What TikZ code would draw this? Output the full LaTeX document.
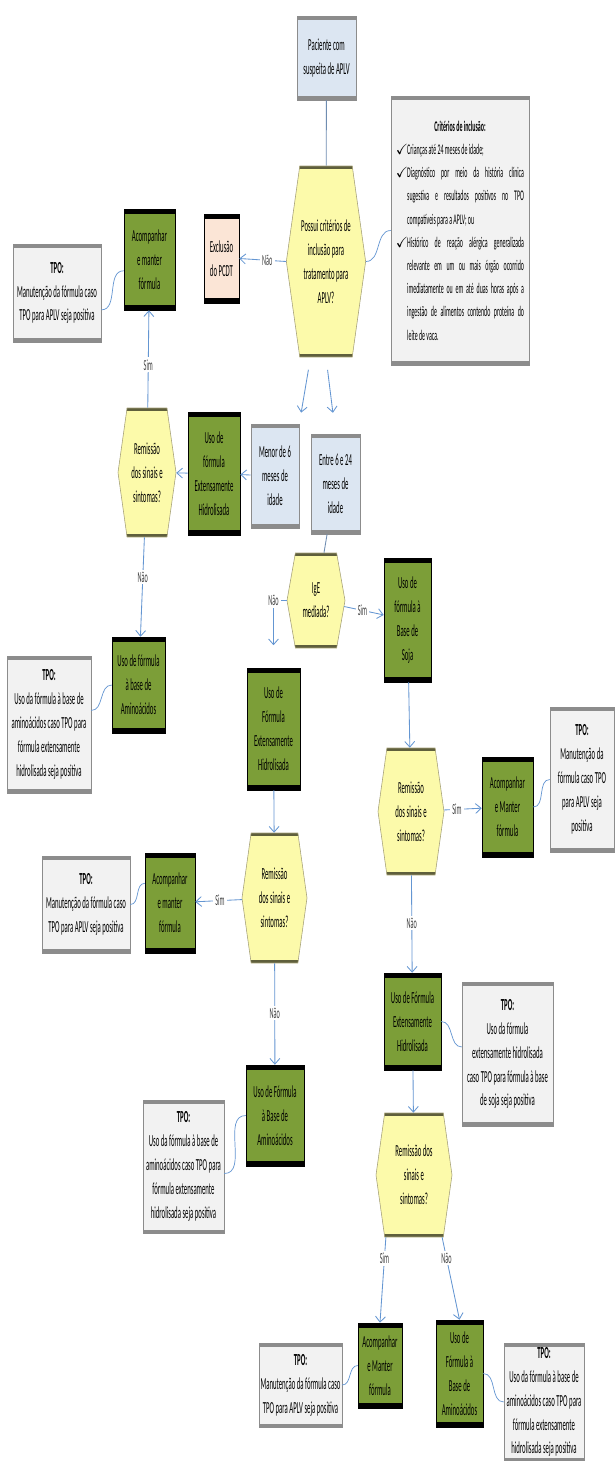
\documentclass[tikz,border=0pt]{standalone}
\usepackage{fontspec}
\setmainfont{Carlito}[FakeStretch=0.4]
\usepackage{amssymb}
\usetikzlibrary{shapes.symbols,arrows.meta}

\definecolor{azulF}{RGB}{220,230,242}
\definecolor{verdeF}{RGB}{124,158,56}
\definecolor{amareloF}{RGB}{252,250,170}
\definecolor{pessegoF}{RGB}{251,229,214}
\definecolor{cinzaF}{RGB}{242,242,242}
\definecolor{borda}{RGB}{140,140,140}
\definecolor{bordaA}{RGB}{165,160,120}
\definecolor{barraA}{RGB}{95,95,60}
\definecolor{setaC}{RGB}{100,150,210}

\newcommand{\criterio}{\par\hangindent=8pt\hangafter=1\noindent\makebox[8pt][l]{\checkmark}}

\begin{document}
\begin{tikzpicture}[x=0.025cm, y=-0.025cm,
  texto/.style={font=\fontsize{12}{17}\selectfont, align=center, inner sep=1pt},
  tam/.style 2 args={minimum width=#1*0.025cm, minimum height=#2*0.025cm},
  barras/.style 2 args={path picture={
      \fill[#1] (path picture bounding box.north west) rectangle ([yshift=-#2]path picture bounding box.north east);
      \fill[#1] (path picture bounding box.south west) rectangle ([yshift=#2]path picture bounding box.south east);}},
  azul/.style={texto, draw=borda, fill=azulF, barras={borda}{2.5pt}},
  verde/.style={texto, draw=black, fill=verdeF, barras={black}{3.5pt}},
  pessego/.style={texto, draw=black, fill=pessegoF, barras={black}{3.5pt}},
  tpo/.style={texto, draw=borda, fill=cinzaF, barras={borda}{2.5pt}},
  decisao/.style={texto, signal, signal to=east and west, signal pointer angle=164,
      draw=bordaA, fill=amareloF, barras={barraA}{2pt}},
  seta/.style={draw=setaC, line width=0.6pt, -{Straight Barb[length=4pt,width=7pt]}},
  linha/.style={draw=setaC!60!gray, line width=0.6pt},
  nota/.style={draw=setaC, line width=0.5pt},
  rot/.style={fill=white, inner sep=1.5pt, font=\fontsize{11}{13}\selectfont, text=black!75}]

  \path[use as bounding box, fill=white] (0,0) rectangle (614,1461);

  % Início
  \node[azul, tam={59}{84}] (paciente) at (326.5,58) {Paciente com\\suspeita de APLV};
  \node[decisao, tam={78}{191}] (criterios) at (326,261.5) {Possui critérios de\\inclusão para\\tratamento para\\APLV?};
  \node[tpo, tam={138}{269}, text width=3.2cm, align=justify,
        font=\fontsize{10.5}{16.5}\selectfont] (inclusao) at (460,230.5) {%
    {\centering\textbf{Critérios de inclusão:}\par}
    \criterio Crianças até 24 meses de idade;
    \criterio Diagnóstico por meio da história clínica\linebreak sugestiva e resultados positivos no TPO\linebreak compatíveis para a APLV; ou
    \criterio Histórico de reação alérgica generalizada\linebreak relevante em um ou mais órgão ocorrido\linebreak imediatamente ou em até duas horas após a\linebreak ingestão de alimentos contendo proteína do\linebreak leite de vaca.\par};
  \node[pessego, tam={35}{89}] (exclusao) at (221.5,258.5) {Exclusão\\do PCDT};
  \node[verde, tam={51}{101}] (acomp1) at (149.5,259.5) {Acompanhar\\e manter\\fórmula};
  \node[tpo, tam={88}{98}] (tpo1) at (57,293) {\textbf{TPO:}\\Manutenção da fórmula caso\\TPO para APLV seja positiva};

  % Menor de 6 meses
  \node[azul, tam={48}{104}] (menor) at (275,476) {Menor de 6\\meses de\\idade};
  \node[verde, tam={52}{123}] (ext1) at (214,473.5) {Uso de\\fórmula\\Extensamente\\Hidrolisada};
  \node[decisao, tam={58}{129}] (rem1) at (147,472.5) {Remissão\\dos sinais e\\sintomas?};
  \node[verde, tam={53}{96}] (amino1) at (138.5,685) {Uso de fórmula\\à base de\\Aminoácidos};
  \node[tpo, tam={84}{137}] (tpo2) at (49,724.5) {\textbf{TPO:}\\Uso da fórmula à base de\\aminoácidos caso TPO para\\fórmula extensamente\\hidrolisada seja positiva};

  % Entre 6 e 24 meses
  \node[azul, tam={49}{100}] (entre) at (335.5,484) {Entre 6 e 24\\meses de\\idade};
  \node[decisao, tam={58}{95}, signal pointer angle=160] (ige) at (316,600.5) {IgE\\mediada?};

  % IgE mediada: soja
  \node[verde, tam={47}{124}] (soja) at (407.5,620) {Uso de\\fórmula à\\Base de\\Soja};
  \node[decisao, tam={66}{127}] (rem2) at (411,811.5) {Remissão\\dos sinais e\\sintomas?};
  \node[verde, tam={51}{100}] (acomp2) at (507.5,807) {Acompanhar\\e Manter\\fórmula};
  \node[tpo, tam={64}{145}] (tpo3) at (582,779.5) {\textbf{TPO:}\\Manutenção da\\fórmula caso TPO\\para APLV seja\\positiva};
  \node[verde, tam={57}{97}] (ext3) at (412.5,1021.5) {Uso de Fórmula\\Extensamente\\Hidrolisada};
  \node[tpo, tam={91}{144}] (tpo5) at (507.5,1054) {\textbf{TPO:}\\Uso da fórmula\\extensamente hidrolisada\\caso TPO para fórmula à base\\de soja seja positiva};
  \node[decisao, tam={76}{124}] (rem4) at (414,1175) {Remissão dos\\sinais e\\sintomas?};
  \node[verde, tam={44}{85}] (acomp4) at (380,1365.5) {Acompanhar\\e Manter\\fórmula};
  \node[tpo, tam={79}{84}] (tpo7) at (300.5,1385) {\textbf{TPO:}\\Manutenção da fórmula caso\\TPO para APLV seja positiva};
  \node[verde, tam={47}{107}] (amino3) at (459.5,1373.5) {Uso de\\Fórmula à\\Base de\\Aminoácidos};
  \node[tpo, tam={80}{118}] (tpo8) at (544,1402) {\textbf{TPO:}\\Uso da fórmula à base de\\aminoácidos caso TPO para\\fórmula extensamente\\hidrolisada seja positiva};

  % IgE não mediada
  \node[verde, tam={53}{122}] (ext2) at (273.5,729) {Uso de\\Fórmula\\Extensamente\\Hidrolisada};
  \node[decisao, tam={65}{130}] (rem3) at (274.5,898) {Remissão\\dos sinais e\\sintomas?};
  \node[verde, tam={50}{100}] (acomp3) at (170,903) {Acompanhar\\e manter\\fórmula};
  \node[tpo, tam={88}{97}] (tpo4) at (86,904.5) {\textbf{TPO:}\\Manutenção da fórmula caso\\TPO para APLV seja positiva};
  \node[verde, tam={58}{101}] (amino2) at (275,1115.5) {Uso de Fórmula\\à Base de\\Aminoácidos};
  \node[tpo, tam={81}{133}] (tpo6) at (183.5,1166.5) {\textbf{TPO:}\\Uso da fórmula à base de\\aminoácidos caso TPO para\\fórmula extensamente\\hidrolisada seja positiva};

  % Ligações
  \draw[linha] (paciente) -- (criterios);
  \draw[nota] (criterios.east) to[out=0,in=180] (inclusao.west);
  \draw[seta] (criterios.west) -- node[rot, pos=0.4] {Não} (exclusao.east);
  \draw[nota] ([yshift=-12pt]tpo1.east) to[out=0,in=180] ([yshift=-8pt]acomp1.west);
  \draw[seta, shorten <=9pt, shorten >=8pt] ([xshift=-11pt]criterios.south) -- (menor.north east);
  \draw[seta, shorten <=9pt, shorten >=15pt] (criterios.south) -- (entre.north);
  \draw[seta] (menor) -- (ext1);
  \draw[seta] (ext1) -- (rem1);
  \draw[seta] (rem1) -- node[rot, pos=0.44] {Sim} (acomp1);
  \draw[seta] (rem1) -- node[rot, pos=0.4] {Não} (amino1);
  \draw[nota] ([yshift=10pt]tpo2.east) to[out=0,in=180] (amino1.west);
  \draw[linha] (entre) -- (ige);
  \draw[seta] (ige) -- node[rot, pos=0.46] {Sim} (soja);
  \draw[seta, shorten >=16pt] (ige.west) -| node[rot, pos=0.5] {Não} (ext2.north);
  \draw[seta] (soja) -- (rem2);
  \draw[seta] (rem2) -- node[rot, pos=0.34] {Sim} (acomp2);
  \draw[nota] (acomp2.east) to[out=0,in=180] (tpo3.west);
  \draw[seta] (rem2) -- node[rot, pos=0.49] {Não} (ext3);
  \draw[nota] (ext3.east) to[out=0,in=180] ([yshift=5pt]tpo5.west);
  \draw[seta] (ext3) -- (rem4);
  \draw[seta] ([xshift=-20pt]rem4.south) -- node[rot, pos=0.25] {Sim} (acomp4.north);
  \draw[seta] ([xshift=20pt]rem4.south) -- node[rot, pos=0.25] {Não} (amino3.north);
  \draw[nota] (tpo7.east) to[out=0,in=180] (acomp4.west);
  \draw[nota] (amino3.east) to[out=0,in=180] (tpo8.west);
  \draw[seta] (ext2) -- (rem3);
  \draw[seta] (rem3) -- node[rot, pos=0.47] {Sim} (acomp3);
  \draw[nota] (tpo4.east) to[out=0,in=180] ([yshift=14pt]acomp3.west);
  \draw[seta] (rem3) -- node[rot, pos=0.49] {Não} (amino2);
  \draw[nota] ([yshift=-5pt]tpo6.east) to[out=0,in=180] (amino2.west);
\end{tikzpicture}
\end{document}
